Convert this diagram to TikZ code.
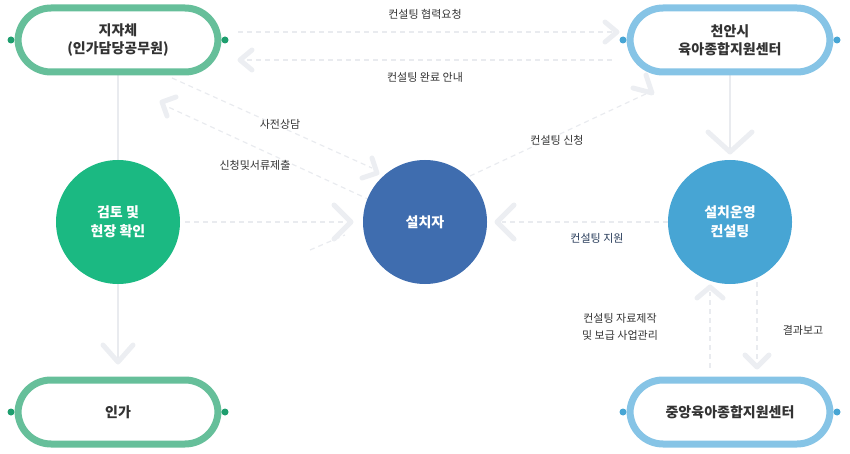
\documentclass[tikz,border=0pt]{standalone}
\usepackage{fontspec}
\setmainfont{Noto Sans CJK KR}
\begin{document}
\begin{tikzpicture}[x=1pt,y=-1pt,
  pillG/.style={draw=gpill,line width=7pt,fill=white,rounded corners=33pt,minimum width=200pt,minimum height=64pt,font=\fontsize{14}{18}\selectfont\bfseries,text=txt,align=center},
  pillB/.style={pillG,draw=bpill},
  circ/.style={circle,minimum size=124pt,text=white,font=\fontsize{14}{19}\selectfont\bfseries,align=center,inner sep=0pt},
  dl/.style={draw=lineg,line width=1.2pt,dash pattern=on 5pt off 4pt},
  chev/.style={draw=chevc,line width=5pt,line cap=round,line join=round},
  lab/.style={font=\fontsize{11}{15}\selectfont,text=txt,align=center}]
\definecolor{gpill}{HTML}{66BF9A}\definecolor{gdot}{HTML}{1E9E6E}
\definecolor{bpill}{HTML}{86C4E6}\definecolor{bdot}{HTML}{47A5D4}
\definecolor{lineg}{HTML}{E9EBEF}\definecolor{chevc}{HTML}{ECEEF2}
\definecolor{txt}{HTML}{333333}
\useasboundingbox (0,0) rectangle (850,454);
% solid verticals
\draw[draw=lineg,line width=2.5pt] (118,75) -- (118,362);
\draw[draw=lineg,line width=2.5pt] (730,75) -- (730,150);
% dashed connectors
\draw[dl] (238,32) -- (612,32);
\draw[dl] (612,60) -- (245,60);
\draw[dl] (172,78) -- (372,168);
\draw[dl] (370,200) -- (166,106);
\draw[dl] (470,176) -- (650,92);
\draw[dl] (185,222) -- (345,222);
\draw[dl] (310,250) -- (345,235);
\draw[dl] (668,222) -- (502,222);
\draw[dl] (710,368) -- (710,292);
\draw[dl] (757,282) -- (757,362);
% chevrons
\draw[chev] (605,22) -- (617,32) -- (605,42);
\draw[chev] (252,50) -- (240,60) -- (252,70);
\draw[chev] (176,97) -- (162,102) -- (167,116);
\draw[chev] (372,158) -- (377,173) -- (362,178);
\draw[chev] (633,88) -- (652,93) -- (646,75);
\draw[chev] (334,205) -- (351,222) -- (334,239);
\draw[chev] (514,205) -- (497,222) -- (514,239);
\draw[chev] (708,132) -- (730,152) -- (752,132);
\draw[chev] (697,298) -- (710,287) -- (723,298);
\draw[chev] (745,355) -- (757,367) -- (769,355);
\draw[chev] (103,345) -- (118,362) -- (133,345);
% nodes
\node[pillG] (jj) at (118,40) {지자체\\(인가담당공무원)};
\node[pillB] (ca) at (730,40) {천안시\\육아종합지원센터};
\node[pillG] (ig) at (118,412) {인가};
\node[pillB] (jy) at (730,412) {중앙육아종합지원센터};
\foreach \p/\c in {jj/gdot,ca/bdot,ig/gdot,jy/bdot}{
  \fill[\c] ([xshift=-3.5pt]\p.west) circle (3.5pt);
  \fill[\c] ([xshift=3.5pt]\p.east) circle (3.5pt);}
\node[circ,fill={rgb,255:red,27;green,185;blue,130}] (gt) at (118,222) {검토 및\\현장 확인};
\node[circ,fill={rgb,255:red,63;green,109;blue,175}] (sc) at (425,222) {설치자};
\node[circ,fill={rgb,255:red,71;green,165;blue,212}] (so) at (730,222) {설치운영\\컨설팅};
% labels
\node[lab] at (425,14) {컨설팅 협력요청};
\node[lab] at (425,77) {컨설팅 완료 안내};
\node[lab] at (280,124) {사전상담};
\node[lab] at (255,165) {신청및서류제출};
\node[lab] at (557,140) {컨설팅 신청};
\node[lab,text={rgb,255:red,40;green,60;blue,90}] at (597,238) {컨설팅 지원};
\node[lab,font=\fontsize{11}{17}\selectfont] at (620,327) {컨설팅 자료제작\\및 보급 사업관리};
\node[lab] at (803,330) {결과보고};
\end{tikzpicture}
\end{document}
